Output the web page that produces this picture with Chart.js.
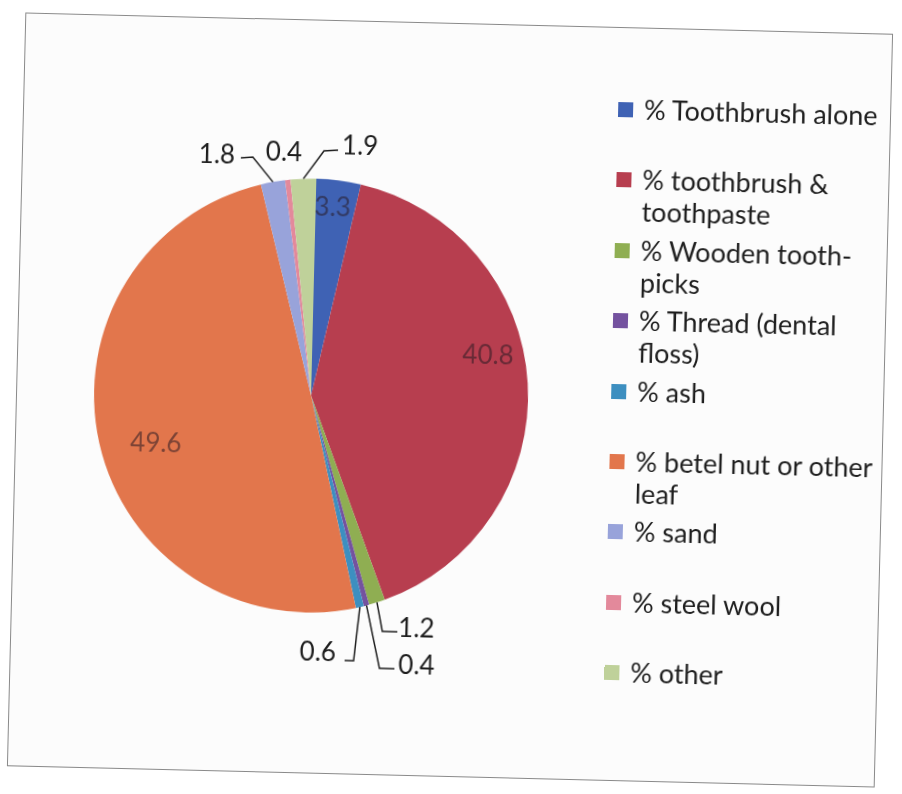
<!DOCTYPE html>
<html>
<head>
<meta charset="utf-8">
<script src="https://cdn.jsdelivr.net/npm/chart.js@4"></script>
<style>
    html, body { margin: 0; padding: 0; background: #fff; }
    body { width: 902px; height: 794px; overflow: hidden; position: relative; }
    #frame {
        position: absolute; left: 16px; top: 23px;
        width: 868px; height: 754px;
        box-sizing: border-box;
        border: 1px solid #8a8a8a;
        background: #fcfcfc;
        transform: rotate(1.4deg);
        transform-origin: 50% 50%;
    }
    #chart { position: absolute; left: 0; top: 0; }
    #legend { position: absolute; left: 0; top: 0; margin: 0; padding: 0; list-style: none; }
    #legend li {
        position: absolute; left: 594px; width: 276px;
        font-family: Lato, "Open Sans", sans-serif; font-size: 27px; line-height: 32px;
        color: #1e1e1e; padding-left: 26px; box-sizing: border-box;
    }
    #legend li span {
        position: absolute; left: 0; top: 9px; width: 15px; height: 15px;
    }
</style>
</head>
<body>
<div id="frame">
    <canvas id="chart" width="868" height="754"></canvas>
    <ul id="legend"></ul>
</div>
<script>
var categories = [
    '% Toothbrush alone',
    '% toothbrush & toothpaste',
    '% Wooden tooth-picks',
    '% Thread (dental floss)',
    '% ash',
    '% betel nut or other leaf',
    '% sand',
    '% steel wool',
    '% other'
];
var percents = [3.3, 40.8, 1.2, 0.4, 0.6, 49.6, 1.8, 0.4, 1.9];
var sliceColors = ['#3f62b4', '#b73e4f', '#8fae52', '#74529f', '#3d8fc0', '#e2764c', '#98a3da', '#e3899b', '#bfd19a'];

// where each value label sits, relative to the pie centre; bends are the leader line elbows
var labelSpots = [
    { x: 17, y: -188, inside: true },
    { x: 176, y: -44, inside: true },
    { x: 111, y: 231, bends: [[77, 234], [92, 234]] },
    { x: 112, y: 268, bends: [[75, 271], [90, 271]] },
    { x: 13, y: 257, bends: [[49, 264], [40, 264]] },
    { x: -154, y: 52, inside: true },
    { x: -100, y: -238, bends: [[-64, -237], [-76, -236]] },
    { x: -33, y: -242 },
    { x: 43, y: -250, bends: [[7, -245], [21, -246]] }
];

var valueLabels = {
    id: 'valueLabels',
    afterDatasetsDraw: function(chart){
        var ctx = chart.ctx;
        var meta = chart.getDatasetMeta(0);
        ctx.save();
        ctx.font = '26px Lato, "Open Sans", sans-serif';
        ctx.textAlign = 'center';
        ctx.textBaseline = 'middle';
        meta.data.forEach(function(arc, i){
            var spot = labelSpots[i];
            var cx = arc.x, cy = arc.y;
            if ( spot.bends ){
                var mid = (arc.startAngle + arc.endAngle) / 2;
                ctx.beginPath();
                ctx.moveTo(cx + Math.cos(mid) * arc.outerRadius, cy + Math.sin(mid) * arc.outerRadius);
                spot.bends.forEach(function(p){
                    ctx.lineTo(cx + p[0], cy + p[1]);
                });
                ctx.strokeStyle = '#1e1e1e';
                ctx.lineWidth = 1.5;
                ctx.stroke();
            }
            ctx.fillStyle = spot.inside ? 'rgba(40, 25, 35, 0.55)' : '#1e1e1e';
            ctx.fillText(percents[i].toFixed(1), cx + spot.x, cy + spot.y);
        });
        ctx.restore();
    }
};

new Chart(document.getElementById('chart'), {
    type: 'pie',
    data: {
        labels: categories,
        datasets: [{
            data: percents,
            backgroundColor: sliceColors,
            borderWidth: 0
        }]
    },
    options: {
        responsive: false,
        animation: false,
        layout: { padding: { left: 77, right: 357, top: 158, bottom: 162 } },
        plugins: {
            legend: { display: false },
            tooltip: { enabled: false }
        }
    },
    plugins: [valueLabels]
});

// legend on the right, one slot per category
var legend = document.getElementById('legend');
categories.forEach(function(name, i){
    var li = document.createElement('li');
    li.style.top = (65 + i * 70.4) + 'px';
    var box = document.createElement('span');
    box.style.background = sliceColors[i];
    li.appendChild(box);
    li.appendChild(document.createTextNode(name));
    legend.appendChild(li);
});
</script>
</body>
</html>
